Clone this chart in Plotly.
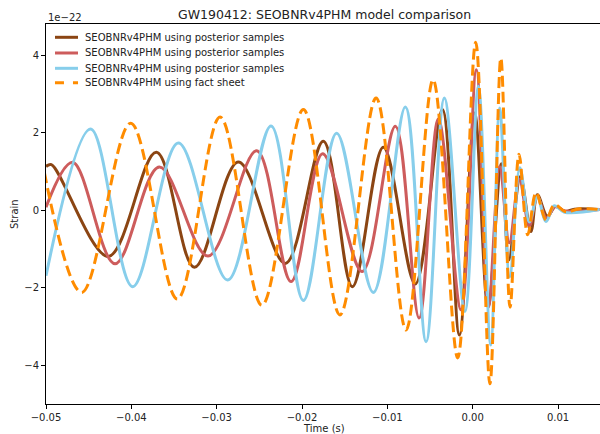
import plotly.graph_objects as go

# ---- data (strain in units of 1e-22, time in seconds) ----
t_brown = [-0.0500, -0.04937, -0.04269, -0.03707, -0.03261, -0.02746, -0.02195, -0.01750,
           -0.01410, -0.01047, -0.00672, -0.00355, -0.00156, 0.00023, 0.00180, 0.00336,
           0.00424, 0.00559, 0.00682, 0.00758, 0.00875, 0.00969, 0.01086, 0.01192, 0.01485]
h_brown = [1.13, 1.18, -1.19, 1.50, -1.47, 1.25, -1.37, 1.78,
           -1.97, 1.63, -1.90, 2.60, -3.22, 2.51, -2.49, 1.20,
           -1.28, 0.87, -0.55, 0.40, -0.15, 0.10, -0.03, 0.03, 0.02]

t_red = [-0.0500, -0.04688, -0.04191, -0.03672, -0.03101, -0.02531, -0.02128, -0.01758,
         -0.01296, -0.00906, -0.00628, -0.00402, -0.00136, 0.00043, 0.00184, 0.00316,
         0.00430, 0.00547, 0.00664, 0.00758, 0.00864, 0.00969, 0.01086, 0.01485]
h_red = [0.08, 1.24, -1.38, 1.12, -1.18, 1.54, -1.84, 1.46,
         -1.58, 2.17, -2.78, 2.36, -2.57, 3.63, -2.50, 1.13,
         -0.84, 0.80, -0.40, 0.35, -0.20, 0.10, -0.02, 0.02]

t_blue = [-0.0500, -0.04477, -0.03985, -0.03449, -0.02871, -0.02363, -0.01984, -0.01594,
          -0.01164, -0.00789, -0.00546, -0.00332, -0.00091, 0.00067, 0.00211, 0.00316,
          0.00434, 0.00553, 0.00664, 0.00758, 0.00860, 0.00957, 0.01075, 0.01485]
h_blue = [-1.69, 2.10, -1.97, 1.74, -1.80, 2.18, -2.33, 1.99,
          -2.12, 2.67, -3.39, 2.90, -2.61, 3.20, -3.48, 2.64,
          -1.71, 1.10, -0.30, 0.35, -0.29, 0.12, -0.05, 0.02]

t_orange = [-0.05125, -0.04582, -0.04008, -0.03461, -0.02960, -0.02470, -0.01984, -0.01556,
            -0.01132, -0.00781, -0.00464, -0.00176, 0.00035, 0.00202, 0.00330, 0.00438,
            0.00543, 0.00645, 0.00743, 0.00860, 0.00957, 0.01095, 0.01250, 0.01485]
h_orange = [2.20, -2.12, 2.25, -2.29, 2.41, -2.45, 2.60, -2.70,
            2.90, -3.09, 3.37, -3.81, 4.34, -4.48, 3.93, -2.50,
            1.45, -0.63, 0.46, -0.25, 0.14, -0.04, 0.04, 0.02]

series_names = ["SEOBNRv4PHM using posterior samples",
                "SEOBNRv4PHM using posterior samples",
                "SEOBNRv4PHM using posterior samples",
                "SEOBNRv4PHM using fact sheet"]

x_ticks = [-0.05, -0.04, -0.03, -0.02, -0.01, 0.00, 0.01]
y_ticks = [-4, -2, 0, 2, 4]

FONT = "DejaVu Sans"
TXT = "#222"

fig = go.Figure()
specs = [
    (t_brown, h_brown, "#8B4513", "solid"),
    (t_red, h_red, "#CD5C5C", "solid"),
    (t_blue, h_blue, "#87CEEB", "solid"),
    (t_orange, h_orange, "#FF8C00", "11px,5px"),
]
for (tx, hy, col, dash), name in zip(specs, series_names):
    fig.add_trace(go.Scatter(
        x=tx, y=hy, mode="lines", name=name, showlegend=False, hoverinfo="skip",
        line=dict(color=col, width=3, dash=dash, shape="spline", smoothing=1.0),
    ))

# legend drawn in paper coordinates (top-left, inside axes)
leg_rows = [0.9650, 0.9237, 0.8834, 0.8455]
shapes = []
annotations = []
for (tx, hy, col, dash), name, yy in zip(specs, series_names, leg_rows):
    shapes.append(dict(type="line", xref="paper", yref="paper",
                       x0=0.0162, x1=0.0578, y0=yy, y1=yy,
                       line=dict(color=col, width=3,
                                 dash="dash" if dash != "solid" else "solid")))
    annotations.append(dict(text=name, xref="paper", yref="paper", x=0.0668, y=yy,
                            xanchor="left", yanchor="middle", showarrow=False,
                            font=dict(family=FONT, size=10, color=TXT)))

annotations += [
    dict(text="GW190412: SEOBNRv4PHM model comparison", xref="paper", yref="paper",
         x=0.5027, y=1.0, yshift=10, xanchor="center", yanchor="middle",
         showarrow=False, font=dict(family=FONT, size=12.5, color=TXT)),
    dict(text="1e\u221222", xref="paper", yref="paper", x=0, y=1.0, yshift=7,
         xanchor="left", yanchor="middle", showarrow=False,
         font=dict(family=FONT, size=10, color=TXT)),
    dict(text="Time (s)", xref="paper", yref="paper", x=0.5027, y=0, yshift=-24,
         xanchor="center", yanchor="middle", showarrow=False,
         font=dict(family=FONT, size=10, color=TXT)),
    dict(text="Strain", xref="paper", yref="paper", x=0, xshift=-32, y=0.5,
         xanchor="center", yanchor="middle", textangle=-90, showarrow=False,
         font=dict(family=FONT, size=10, color=TXT)),
]

fig.update_layout(
    width=600, height=434,
    margin=dict(l=46, r=0, t=24, b=30, autoexpand=False),
    paper_bgcolor="white", plot_bgcolor="white",
    font=dict(family=FONT, size=10, color="#000"),
    showlegend=False,
    hovermode=False,
    xaxis=dict(range=[-0.05, 0.01492], showgrid=False, zeroline=False, automargin=False,
               showline=True, linecolor="#000", linewidth=1, mirror=True,
               ticks="outside", ticklen=4, tickcolor="#000", tickwidth=1,
               tickvals=x_ticks, tickformat=".2f",
               tickfont=dict(family=FONT, size=10, color=TXT)),
    yaxis=dict(range=[-5.0, 4.81], showgrid=False, zeroline=False, automargin=False,
               showline=True, linecolor="#000", linewidth=1,
               ticks="outside", ticklen=4, tickcolor="#000", tickwidth=1,
               tickvals=y_ticks,
               tickfont=dict(family=FONT, size=10, color=TXT)),
    shapes=shapes,
    annotations=annotations,
)

fig.write_html("out.html",
               config={"displayModeBar": False, "staticPlot": True},
               post_script="document.body.style.margin='0';document.body.style.padding='0';"
                           "document.body.style.overflow='hidden';")
